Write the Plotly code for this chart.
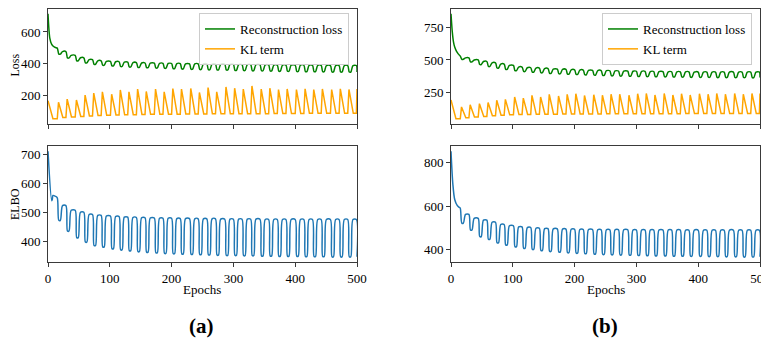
import plotly.graph_objects as go

# The page body has an 8 px margin, so the figure is drawn 8 px in from the window edge.
WIN_W, WIN_H = 769, 341
OFF = 8
W, H = WIN_W, WIN_H

# ---------------- data ----------------
cycle_starts = [0, 15, 29, 44, 58, 72, 86, 101, 115, 129, 143, 157, 172, 186, 200, 214, 229, 243,
                257, 271, 286, 300, 314, 328, 343, 357, 371, 385, 400, 414, 428, 442, 457, 471, 485, 499]
last_epoch = 500
x_ticks = [0, 100, 200, 300, 400, 500]

# Panel (a)
a_kl_warm_x = [0, 8]
a_kl_warm_y = [166, 52]
a_kl_trough = [52, 60, 63, 66, 70, 72, 74, 76, 77, 78, 79, 80, 80, 81, 81, 82, 82, 82, 83, 83,
               83, 84, 84, 84, 84, 85, 85, 85, 85, 86, 86, 86, 86, 86, 86]
a_kl_peak = [156, 176, 170, 201, 214, 222, 207, 234, 222, 239, 224, 239, 222, 243, 239, 243, 218, 249,
             222, 253, 245, 239, 259, 239, 245, 236, 240, 236, 241, 236, 240, 236, 241, 237, 240]

a_rec_warm_x = [0, 3, 6, 9, 12]
a_rec_warm_y = [715, 560, 522, 508, 502]
a_rec_plateau = [498, 476, 452, 437, 425, 418, 414, 412, 409, 406, 404, 403, 402, 401, 400, 399, 398, 398,
                 397, 396, 395, 394, 394, 393, 392, 391, 391, 390, 390, 389, 389, 388, 388, 388, 388]
a_rec_trough = [460, 436, 418, 405, 396, 390, 386, 382, 379, 377, 375, 373, 371, 369, 367, 365, 364, 362,
                361, 360, 358, 357, 356, 355, 354, 353, 352, 351, 350, 350, 349, 348, 348, 347, 347]

a_elbo_warm_x = [0, 6, 7, 8, 12]
a_elbo_warm_y = [711, 540, 545, 558, 555]
a_elbo_plateau = [550, 523, 507, 500, 492, 489, 487, 485, 483, 482, 481, 480, 479, 479, 478, 478, 477, 477,
                  477, 476, 476, 476, 476, 476, 475, 475, 475, 475, 475, 475, 475, 475, 475, 475, 475]
a_elbo_trough = [472, 435, 412, 397, 385, 380, 374, 370, 367, 364, 362, 360, 358, 357, 356, 355, 354, 353,
                 352, 351, 351, 350, 350, 349, 349, 348, 348, 348, 347, 347, 347, 346, 346, 346, 346]

# Panel (b)
b_kl_warm_x = [0, 8]
b_kl_warm_y = [192, 47]
b_kl_trough = [47, 55, 60, 65, 70, 74, 77, 79, 80, 81, 82, 82, 83, 83, 84, 84, 84, 85, 85, 85,
               85, 86, 86, 86, 86, 86, 87, 87, 87, 87, 87, 87, 87, 87, 87]
b_kl_peak = [138, 155, 163, 172, 190, 196, 215, 206, 227, 215, 235, 222, 235, 240, 226, 232, 228, 236,
             236, 228, 240, 242, 230, 242, 230, 240, 230, 240, 236, 242, 236, 242, 236, 242, 242]

b_rec_warm_x = [0, 2, 4, 6, 9, 12]
b_rec_warm_y = [856, 720, 640, 600, 566, 545]
b_rec_plateau = [530, 516, 500, 488, 478, 468, 458, 445, 440, 437, 434, 430, 427, 424, 422, 420, 418, 417,
                 415, 414, 413, 412, 411, 410, 409, 408, 408, 407, 407, 407, 407, 407, 407, 407, 407]
b_rec_trough = [505, 485, 465, 450, 438, 428, 418, 412, 407, 402, 397, 394, 391, 389, 386, 384, 382, 379,
                377, 376, 374, 373, 372, 371, 370, 369, 368, 367, 367, 366, 366, 365, 365, 364, 364]

b_elbo_warm_x = [0, 3, 6, 10, 13]
b_elbo_warm_y = [850, 700, 630, 603, 595]
b_elbo_plateau = [590, 562, 544, 536, 526, 516, 510, 505, 502, 499, 497, 496, 495, 494, 493, 493, 492, 492,
                  492, 492, 491, 491, 491, 491, 491, 491, 490, 490, 490, 490, 490, 490, 490, 490, 490]
b_elbo_trough = [522, 491, 461, 449, 433, 423, 415, 408, 403, 398, 394, 391, 388, 386, 384, 382, 380, 379,
                 378, 377, 376, 375, 374, 374, 373, 373, 372, 372, 371, 371, 370, 370, 369, 369, 369]

# ---------------- build the curves from the per-cycle values ----------------
N = len(cycle_starts)


def kl_curve(warm_x, warm_y, troughs, peaks, rise=2, fall=9):
    xs, ys = list(warm_x), list(warm_y)
    for k in range(1, N):
        s = cycle_starts[k]
        xs.append(s); ys.append(troughs[k - 1])
        if k < N - 1:
            xs += [s + rise, s + fall]
            ys += [peaks[k - 1], troughs[k]]
        else:
            xs.append(last_epoch); ys.append(peaks[k - 1])
    return xs, ys


def wave_curve(warm_x, warm_y, plateaus, troughs, dip=2.5, hold=5, up=8.5):
    xs, ys = list(warm_x), list(warm_y)
    for k in range(1, N):
        s = cycle_starts[k]
        xs.append(s); ys.append(plateaus[k - 1])
        if k < N - 1:
            xs += [s + dip, s + hold, s + up]
            ys += [troughs[k - 1], troughs[k - 1], plateaus[k]]
        else:
            xs.append(last_epoch); ys.append(troughs[k - 1])
    return xs, ys


GREEN, ORANGE, BLUE = "#008000", "#FFA500", "#1f77b4"
FONT = "Liberation Serif"
AX = "#3a3a3a"

fig = go.Figure()


def add_panel(suffix_top, suffix_bot, legend_name, kl, rec, elbo):
    rx, ry = wave_curve(*rec)
    kx, ky = kl_curve(*kl)
    ex, ey = wave_curve(*elbo)
    fig.add_trace(go.Scatter(x=rx, y=ry, mode="lines", name="Reconstruction loss",
                             line=dict(color=GREEN, width=1.5, shape="spline", smoothing=0.8),
                             xaxis="x" + suffix_top, yaxis="y" + suffix_top, legend=legend_name))
    fig.add_trace(go.Scatter(x=kx, y=ky, mode="lines", name="KL term",
                             line=dict(color=ORANGE, width=1.5),
                             xaxis="x" + suffix_top, yaxis="y" + suffix_top, legend=legend_name))
    fig.add_trace(go.Scatter(x=ex, y=ey, mode="lines", name="ELBO", showlegend=False,
                             line=dict(color=BLUE, width=1.5, shape="spline", smoothing=0.8),
                             xaxis="x" + suffix_bot, yaxis="y" + suffix_bot))
    return (min(ry + ky), max(ry + ky)), (min(ey), max(ey))


top_a, bot_a = add_panel("", "2", "legend",
                         (a_kl_warm_x, a_kl_warm_y, a_kl_trough, a_kl_peak),
                         (a_rec_warm_x, a_rec_warm_y, a_rec_plateau, a_rec_trough),
                         (a_elbo_warm_x, a_elbo_warm_y, a_elbo_plateau, a_elbo_trough))
top_b, bot_b = add_panel("3", "4", "legend2",
                         (b_kl_warm_x, b_kl_warm_y, b_kl_trough, b_kl_peak),
                         (b_rec_warm_x, b_rec_warm_y, b_rec_plateau, b_rec_trough),
                         (b_elbo_warm_x, b_elbo_warm_y, b_elbo_plateau, b_elbo_trough))


def padded(lohi):
    lo, hi = lohi
    p = 0.05 * (hi - lo)
    return [lo - p, hi + p]


def clamp(v):
    return min(1.0, max(0.0, v))


# window pixel -> paper fraction (figure starts OFF px inside the window)
def fx(px):
    return clamp((px - OFF) / W)


def fy(py):
    return clamp(1 - (py - OFF) / H)


def px_x(a, b):
    return [fx(a), fx(b)]


def px_y(top, bottom):
    return [fy(bottom), fy(top)]


axis_common = dict(showline=True, linecolor=AX, linewidth=1, mirror=True, ticks="outside",
                   ticklen=4, tickwidth=1, tickcolor=AX, showgrid=False, zeroline=False,
                   automargin=False,
                   tickfont=dict(family=FONT, size=13, color="black"))

xa = dict(axis_common, range=[0, last_epoch], tickvals=x_ticks)

fig.update_layout(
    width=W, height=H, autosize=False,
    margin=dict(l=0, r=0, t=0, b=0, pad=0),
    paper_bgcolor="white", plot_bgcolor="white",
    font=dict(family=FONT, size=13, color="black"),
    xaxis=dict(xa, domain=px_x(48, 357), anchor="y", showticklabels=False),
    yaxis=dict(axis_common, domain=px_y(8.5, 124), anchor="x", range=padded(top_a), tick0=0, dtick=200),
    xaxis2=dict(xa, domain=px_x(48, 357), anchor="y2"),
    yaxis2=dict(axis_common, domain=px_y(146, 262), anchor="x2", range=padded(bot_a), tick0=0, dtick=100),
    xaxis3=dict(xa, domain=px_x(451, 760), anchor="y3", showticklabels=False),
    yaxis3=dict(axis_common, domain=px_y(8.5, 124), anchor="x3", range=padded(top_b), tick0=0, dtick=250),
    xaxis4=dict(xa, domain=px_x(451, 760), anchor="y4"),
    yaxis4=dict(axis_common, domain=px_y(146, 262), anchor="x4", range=padded(bot_b), tick0=0, dtick=200),
    legend=dict(x=fx(349), xanchor="right", y=fy(13), yanchor="top",
                bgcolor="rgba(255,255,255,0.85)", bordercolor="#cccccc", borderwidth=1,
                font=dict(family=FONT, size=13, color="black"), itemwidth=30, tracegroupgap=0),
    legend2=dict(x=fx(752), xanchor="right", y=fy(13), yanchor="top",
                 bgcolor="rgba(255,255,255,0.85)", bordercolor="#cccccc", borderwidth=1,
                 font=dict(family=FONT, size=13, color="black"), itemwidth=30, tracegroupgap=0),
)


def label(text, x, y, size=13, angle=0, bold=False):
    fig.add_annotation(text=f"<b>{text}</b>" if bold else text, xref="paper", yref="paper",
                       x=fx(x), y=fy(y), xanchor="center", yanchor="middle", showarrow=False,
                       textangle=angle, font=dict(family=FONT, size=size, color="black"))


label("Loss", 15, 65.5, size=12, angle=-90)
label("ELBO", 15, 204, size=12, angle=-90)
label("Epochs", 202.5, 289)
label("Epochs", 605.5, 289)
label("(a)", 201, 326, size=21, bold=True)
label("(b)", 605, 326, size=21, bold=True)

fig.write_html("out.html")
